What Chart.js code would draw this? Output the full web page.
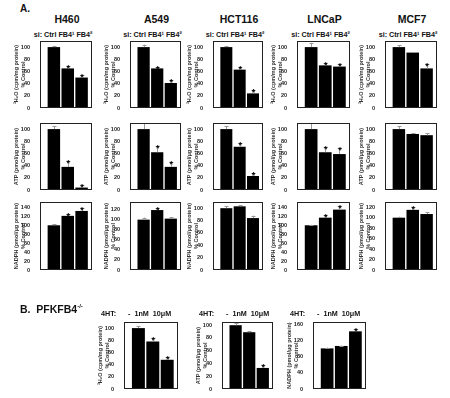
<!DOCTYPE html>
<html>
<head>
<meta charset="utf-8">
<script src="https://cdn.jsdelivr.net/npm/chart.js@4.4.1/dist/chart.umd.min.js"></script>
<style>
  body { margin: 0; background: #fff; }
  #fig { position: relative; width: 450px; height: 398px; overflow: hidden;
         font-family: 'Liberation Sans', Arial, sans-serif; font-weight: bold; color: #111; }
  .lbl { position: absolute; white-space: nowrap; line-height: 1; }
  .c { transform: translateX(-50%); }
  canvas { position: absolute; }
</style>
</head>
<body>
<div id="fig"></div>
<script>
// panel A: cell lines x siRNA
const cellLines = ['H460', 'A549', 'HCT116', 'LNCaP', 'MCF7'];
const siLabels = ['Ctrl', 'FB4¹', 'FB4²'];
const metricTitles = [
    ['³H₂O (cpm/mg protein)', '% Control'],
    ['ATP (pmol/μg protein)', '% Control'],
    ['NADPH (pmol/μg protein)', '% Control']
];

const h2oValues = [[100, 65, 50], [100, 65, 41], [100, 63, 24], [100, 70, 68], [100, 91, 65]];
const h2oErrors = [[2, 4, 4], [4, 3, 5], [2, 5, 6], [7, 4, 4], [3, 1, 8]];
const h2oStars = [[0, 1, 1], [0, 1, 1], [0, 1, 1], [0, 1, 1], [0, 0, 1]];
const h2oMax = [110, 110, 110, 110, 110];

const atpValues = [[100, 38, 4], [100, 62, 38], [100, 71, 23], [100, 62, 59], [100, 92, 90]];
const atpErrors = [[5, 10, 5], [10, 10, 8], [5, 6, 5], [10, 8, 10], [5, 1, 3]];
const atpStars = [[0, 1, 1], [0, 1, 1], [0, 1, 1], [0, 1, 1], [0, 0, 0]];
const atpMax = [110, 110, 110, 110, 110];

const nadphValues = [[100, 121, 132], [100, 119, 102], [100, 103, 84], [100, 117, 135], [100, 115, 107]];
const nadphErrors = [[2, 4, 6], [4, 4, 3], [3, 2, 4], [1, 6, 8], [2, 5, 4]];
const nadphStars = [[0, 1, 1], [0, 1, 0], [0, 0, 0], [0, 1, 1], [0, 1, 0]];
const nadphMax = [152, 135, 110, 152, 130];

// panel B: PFKFB4-/- cells, 4HT doses
const doseLabels = ['-', '1nM', '10μM'];
const pfkValues = [[100, 78, 48], [100, 89, 33], [100, 106, 142]];
const pfkErrors = [[3, 6, 4], [3, 2, 5], [2, 1, 6]];
const pfkStars = [[0, 1, 1], [0, 0, 1], [0, 0, 1]];
const pfkMax = [110, 105, 165];

const tickStep = 20;

const fig = document.getElementById('fig');
const FONT = "'Liberation Sans', Arial, sans-serif";

function addText(html, x, y, size, center) {
    const d = document.createElement('div');
    d.className = center ? 'lbl c' : 'lbl';
    d.style.left = x + 'px';
    d.style.top = y + 'px';
    d.style.fontSize = size + 'px';
    d.innerHTML = html;
    fig.appendChild(d);
}

// frame + error bars + asterisks
function extrasPlugin(errors, stars) {
    return {
        id: 'extras',
        afterDatasetsDraw(chart) {
            const ctx = chart.ctx;
            const area = chart.chartArea;
            const yScale = chart.scales.y;
            const meta = chart.getDatasetMeta(0);
            const vals = chart.data.datasets[0].data;
            ctx.save();
            meta.data.forEach((bar, i) => {
                const v = vals[i].y;
                const top = yScale.getPixelForValue(v);
                const errTop = yScale.getPixelForValue(v + errors[i]);
                ctx.strokeStyle = '#9a9a9a';
                ctx.lineWidth = 1;
                ctx.beginPath();
                ctx.moveTo(Math.round(bar.x) + 0.5, top);
                ctx.lineTo(Math.round(bar.x) + 0.5, errTop);
                ctx.moveTo(Math.round(bar.x) - 1.5, Math.round(errTop) + 0.5);
                ctx.lineTo(Math.round(bar.x) + 2.5, Math.round(errTop) + 0.5);
                ctx.stroke();
                if (stars[i]) {
                    ctx.fillStyle = '#000';
                    ctx.font = 'bold 9px ' + FONT;
                    ctx.textAlign = 'center';
                    ctx.textBaseline = 'alphabetic';
                    ctx.fillText('*', bar.x + 0.5, errTop + 5);
                }
            });
            ctx.strokeStyle = '#222';
            ctx.lineWidth = 1;
            ctx.strokeRect(area.left + 0.5, area.top + 0.5, area.right - area.left - 1, area.bottom - area.top - 1);
            ctx.restore();
        }
    };
}

function drawPanel(x, y, w, h, values, errors, stars, yMax, title) {
    const padL = 27, padT = 8, padR = 3, padB = 6;
    const cw = w + padL + padR, ch = h + padT + padB;
    const cv = document.createElement('canvas');
    cv.width = cw;
    cv.height = ch;
    cv.style.left = (x - padL) + 'px';
    cv.style.top = (y - padT) + 'px';
    cv.style.width = cw + 'px';
    cv.style.height = ch + 'px';
    fig.appendChild(cv);

    new Chart(cv, {
        type: 'bar',
        data: {
            datasets: [{
                data: values.map((v, i) => ({ x: i + 1, y: v })),
                backgroundColor: '#000',
                borderWidth: 0,
                barPercentage: 0.9,
                categoryPercentage: 1
            }]
        },
        options: {
            responsive: false,
            animation: false,
            layout: { padding: { top: padT, right: padR, bottom: padB, left: 0 } },
            plugins: { legend: { display: false }, tooltip: { enabled: false } },
            scales: {
                x: { type: 'linear', min: 0, max: 3.75, offset: false, display: false },
                y: {
                    min: 0,
                    max: yMax,
                    afterFit: s => { s.width = padL; },
                    border: { display: false },
                    grid: { display: false },
                    ticks: {
                        stepSize: tickStep,
                        includeBounds: false,
                        padding: 2,
                        color: '#222',
                        font: { size: 5.5, weight: 'bold', family: FONT }
                    },
                    title: {
                        display: true,
                        text: title,
                        color: '#333',
                        padding: 0,
                        font: { size: 5.5, weight: 'bold', family: FONT, lineHeight: 1.25 }
                    }
                }
            }
        },
        plugins: [extrasPlugin(errors, stars)]
    });
}

// layout of panel A
const colX = [40, 130, 213, 297, 385];
const colW = [52, 51, 50, 53, 52];
const rowY = [41, 123, 202];
const rowH = [67, 67, 68];

addText('A.', 20, 3.5, 10, false);

cellLines.forEach((name, c) => {
    const cx = colX[c] + colW[c] / 2;
    addText(name, cx + 1, 14, 10.5, true);
    addText('si: ' + siLabels.join(' '), cx - 3, 31, 7.2, true);
    drawPanel(colX[c], rowY[0], colW[c], rowH[0], h2oValues[c], h2oErrors[c], h2oStars[c], h2oMax[c], metricTitles[0]);
    drawPanel(colX[c], rowY[1], colW[c], rowH[1], atpValues[c], atpErrors[c], atpStars[c], atpMax[c], metricTitles[1]);
    drawPanel(colX[c], rowY[2], colW[c], rowH[2], nadphValues[c], nadphErrors[c], nadphStars[c], nadphMax[c], metricTitles[2]);
});

// layout of panel B
const bX = [124, 222, 313];
const bW = [54, 51, 53];
const bY = 322, bH = 67;

addText('B.&nbsp;&nbsp;PFKFB4<span style="font-size:6px;vertical-align:top;position:relative;top:-1px">-/-</span>', 20, 303.5, 10.5, false);

pfkValues.forEach((vals, p) => {
    addText('4HT:', bX[p] - 23, 310, 7.2, false);
    addText(doseLabels.join('&nbsp; '), bX[p] + 4, 310, 7.2, false);
    drawPanel(bX[p], bY, bW[p], bH, vals, pfkErrors[p], pfkStars[p], pfkMax[p], metricTitles[p]);
});
</script>
</body>
</html>
